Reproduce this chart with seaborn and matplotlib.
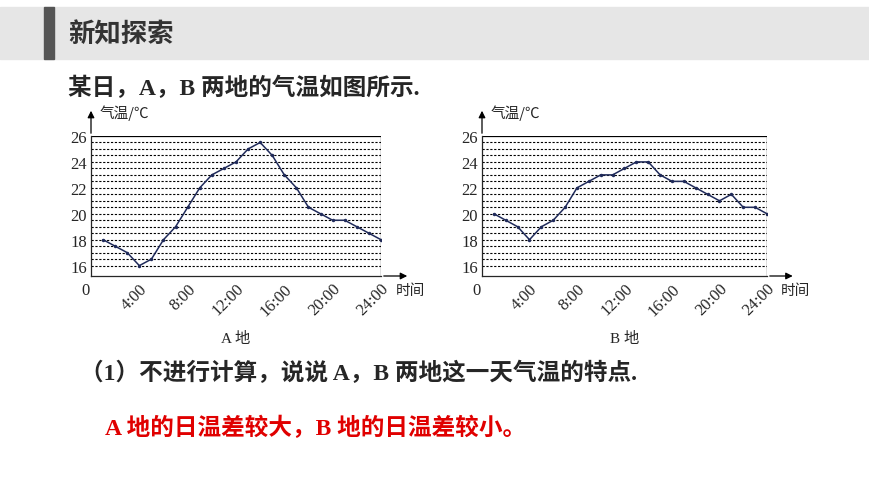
import numpy as np
import matplotlib
matplotlib.use("Agg")
import matplotlib.pyplot as plt
import seaborn as sns

hours = list(range(1, 25))
temp_a = [18, 17.5, 17, 16, 16.5, 18, 19, 20.5, 22, 23, 23.5, 24, 25, 25.5, 24.5,
          23, 22, 20.5, 20, 19.5, 19.5, 19, 18.5, 18]
temp_b = [20, 19.5, 19, 18, 19, 19.5, 20.5, 22, 22.5, 23, 23, 23.5, 24, 24, 23,
          22.5, 22.5, 22, 21.5, 21, 21.5, 20.5, 20.5, 20]
xticks = [4, 8, 12, 16, 20, 24]
xlabels = ["4:00", "8:00", "12:00", "16:00", "20:00", "24:00"]
yticks = [16, 18, 20, 22, 24, 26]

sns.set_style("white")
plt.rcParams["font.family"] = ["Liberation Serif", "Noto Sans CJK SC", "DejaVu Sans"]
CJK = ["Noto Sans CJK SC", "DejaVu Sans"]
SERIF = ["Liberation Serif", "Noto Sans CJK SC"]

W, H = 870, 489
fig = plt.figure(figsize=(8.7, 4.89), dpi=100)

# header band
fig.patches.append(plt.Rectangle((0, 1 - 60 / H), 1, 52 / H, transform=fig.transFigure,
                                 color="#e6e6e6", zorder=0))
fig.patches.append(plt.Rectangle((44 / W, 1 - 60 / H), 10 / W, 52 / H, transform=fig.transFigure,
                                 color="#555555", zorder=1))
fig.text(68 / W, 1 - 35 / H, "新知探索", family=CJK, fontsize=19, fontweight="bold",
         color="#333333", va="center")
fig.text(68 / W, 1 - 88 / H, "某日，A，B 两地的气温如图所示.", family=SERIF, fontsize=17,
         fontweight="bold", va="center")
fig.text(80 / W, 1 - 373 / H, "（1）不进行计算，说说 A，B 两地这一天气温的特点.", family=SERIF,
         fontsize=17, fontweight="bold", va="center")
fig.text(105 / W, 1 - 428 / H, "A 地的日温差较大，B 地的日温差较小。", family=SERIF,
         fontsize=17, fontweight="bold", color="#e00000", va="center")


def draw(left_px, right_px, temps, name):
    ax = fig.add_axes([left_px / W, 1 - 277 / H, (right_px - left_px) / W, 140 / H])
    sns.lineplot(x=hours, y=temps, ax=ax, color="#1f2a5a", lw=1.1, marker="o",
                 markersize=2.5, markeredgewidth=0)
    for v in np.arange(16, 26, 0.5):
        ax.axhline(v, color="black", lw=0.8, ls=(0, (2, 1.5)), zorder=0)
    ax.axhline(26, color="black", lw=0.9)
    ax.axvline(24, color="black", lw=0.9)
    ax.set_xlim(0, 24)
    ax.set_ylim(15.2, 26)
    for s in ["top", "right"]:
        ax.spines[s].set_visible(False)
    for s in ["left", "bottom"]:
        ax.spines[s].set_linewidth(0.9)
    ax.set_xticks(xticks)
    ax.set_xticklabels(xlabels, rotation=45, ha="right", rotation_mode="anchor",
                       fontsize=12, family=SERIF)
    ax.set_yticks(yticks)
    ax.set_yticklabels([str(t) for t in yticks], fontsize=12, family=SERIF)
    ax.tick_params(length=0, pad=3)
    # axis arrows
    ax.annotate("", xy=(0, 1.2), xytext=(0, 1), xycoords="axes fraction",
                arrowprops=dict(arrowstyle="-|>", color="black", lw=0.9))
    ax.annotate("", xy=(1.1, 0), xytext=(1, 0), xycoords="axes fraction",
                arrowprops=dict(arrowstyle="-|>", color="black", lw=0.9))
    ax.text(0.03, 1.17, "气温/℃", transform=ax.transAxes, family=CJK, fontsize=10.5, va="center")
    ax.text(1.05, -0.1, "时间", transform=ax.transAxes, family=CJK, fontsize=10.5, va="center")
    ax.text(-0.02, -0.1, "0", transform=ax.transAxes, family=SERIF, fontsize=12,
            ha="center", va="center")
    ax.text(0.5, -0.47, name, transform=ax.transAxes, family=SERIF, fontsize=11, ha="center")


draw(91, 381, temp_a, "A 地")
draw(482, 767, temp_b, "B 地")

fig.savefig("out.png", dpi=100)
